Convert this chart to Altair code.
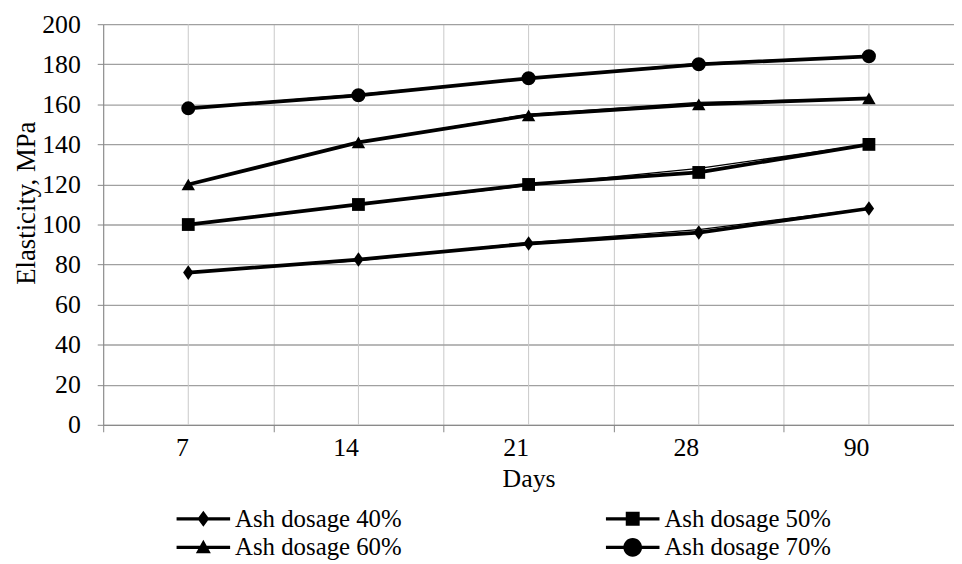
import altair as alt
import pandas as pd

days = ["7", "14", "21", "28", "90"]
series = ["Ash dosage 40%", "Ash dosage 50%", "Ash dosage 60%", "Ash dosage 70%"]

# main (thick) series
e40 = [76, 82.5, 90.5, 96, 108]
e50 = [100, 110, 120, 126, 140]
e60 = [120, 141, 154.5, 160, 163]
e70 = [158, 164.5, 173, 180, 184]
# secondary (thin) series, nearly coincident
t40 = [76, 82, 91, 97.5, 108]
t50 = [100, 110, 119.5, 128, 140]
t60 = [120, 141, 155, 161, 163]
t70 = [158, 165, 173, 180.5, 184]

main_vals = [e40, e50, e60, e70]
thin_vals = [t40, t50, t60, t70]

rows = []
for s, vals in zip(series, main_vals):
    for d, v in zip(days, vals):
        rows.append({"series": s, "day": d, "value": v})
main_df = pd.DataFrame(rows)

rows = []
for s, vals in zip(series, thin_vals):
    for d, v in zip(days, vals):
        rows.append({"series": s, "day": d, "value": v})
thin_df = pd.DataFrame(rows)

days_df = pd.DataFrame({"day": days})

FONT = "Liberation Serif"
FS = 26
W, H = 858, 404

x_enc = alt.X(
    "day:N",
    sort=days,
    scale=alt.Scale(type="band", domain=days, paddingInner=0, paddingOuter=0),
    axis=alt.Axis(
        title="Days",
        labelAngle=0,
        tickBand="extent",
        grid=True,
        gridColor="#c8c8c8",
        gridWidth=1,
        domainColor="#868686",
        tickColor="#868686",
        tickSize=7,
        labelFont=FONT,
        labelFontSize=FS,
        labelColor="black",
        labelPadding=16,
        titleFont=FONT,
        titleFontSize=FS,
        titleFontWeight="normal",
        titleColor="black",
        titlePadding=5,
    ),
)
y_enc = alt.Y(
    "value:Q",
    scale=alt.Scale(domain=[0, 200], nice=False, zero=True),
    axis=alt.Axis(
        title="Elasticity, MPa",
        values=list(range(0, 201, 20)),
        grid=True,
        gridColor="#a0a0a0",
        gridWidth=1.3,
        domainColor="#868686",
        tickColor="#868686",
        tickSize=6,
        labelFont=FONT,
        labelFontSize=FS,
        labelColor="black",
        labelPadding=17,
        titleFont=FONT,
        titleFontSize=27,
        titleFontWeight="normal",
        titleColor="black",
        titlePadding=1,
        titleY=180,
    ),
)

vgrid = alt.Chart(days_df).mark_rule(color="#c8c8c8", strokeWidth=1).encode(
    x=alt.X("day:N", sort=days),
    y=alt.value(0),
    y2=alt.value(H),
)

thin = alt.Chart(thin_df).mark_line(color="black", strokeWidth=1.3).encode(
    x=x_enc, y=y_enc, detail="series:N"
)
thick = alt.Chart(main_df).mark_line(color="black", strokeWidth=3.8).encode(
    x=x_enc, y=y_enc, detail="series:N"
)
points = alt.Chart(main_df).mark_point(filled=True, color="black", opacity=1).encode(
    x=x_enc,
    y=y_enc,
    shape=alt.Shape(
        "series:N",
        scale=alt.Scale(
            domain=series,
            range=["M0,-1.2L0.85,0L0,1.2L-0.85,0Z", "square", "triangle-up", "circle"],
        ),
        legend=None,
    ),
    size=alt.Size(
        "series:O",
        scale=alt.Scale(domain=series, range=[150, 200, 220, 330]),
        legend=None,
    ),
)

# legend is filled column by column, so order entries to read row by row
legend_order = [series[0], series[2], series[1], series[3]]
# symbol box is 27 px (1 unit = 13.5 px); the glyph spans -1..3 units -> 54 px wide
path_line = "M-1,-0.12H3V0.12H-1Z "
path_by_series = {
    series[0]: path_line + "M1,-0.6L1.44,0L1,0.6L0.56,0Z",
    series[1]: path_line + "M0.48,-0.52H1.52V0.52H0.48Z",
    series[2]: path_line + "M1,-0.56L1.56,0.44H0.44Z",
    series[3]: path_line + "M0.3,0A0.7,0.7,0,1,1,1.7,0A0.7,0.7,0,1,1,0.3,0Z",
}

legend_layer = alt.Chart(main_df).mark_point(
    filled=True, color="black", size=0, opacity=1
).encode(
    x=x_enc,
    y=y_enc,
    shape=alt.Shape(
        "series:N",
        scale=alt.Scale(domain=legend_order, range=[path_by_series[s] for s in legend_order]),
        legend=alt.Legend(
            title=None,
            orient="none",
            legendX=74,
            legendY=485,
            columns=2,
            columnPadding=205,
            rowPadding=2,
            symbolSize=729,
            symbolFillColor="black",
            symbolOpacity=1,
            symbolStrokeWidth=0,
            labelFont=FONT,
            labelFontSize=FS - 1,
            labelColor="black",
            labelOffset=32,
            labelLimit=400,
        ),
    ),
)

chart = (
    alt.layer(vgrid, thin, thick, points, legend_layer)
    .resolve_scale(shape="independent")
    .properties(
        width=W,
        height=H,
        autosize=alt.AutoSizeParams(type="none"),
        padding={"left": 96, "top": 14, "right": 0, "bottom": 138},
        background="white",
    )
    .configure_view(stroke=None)
)

chart.save("out.html", embed_options={"renderer": "svg", "actions": False})
